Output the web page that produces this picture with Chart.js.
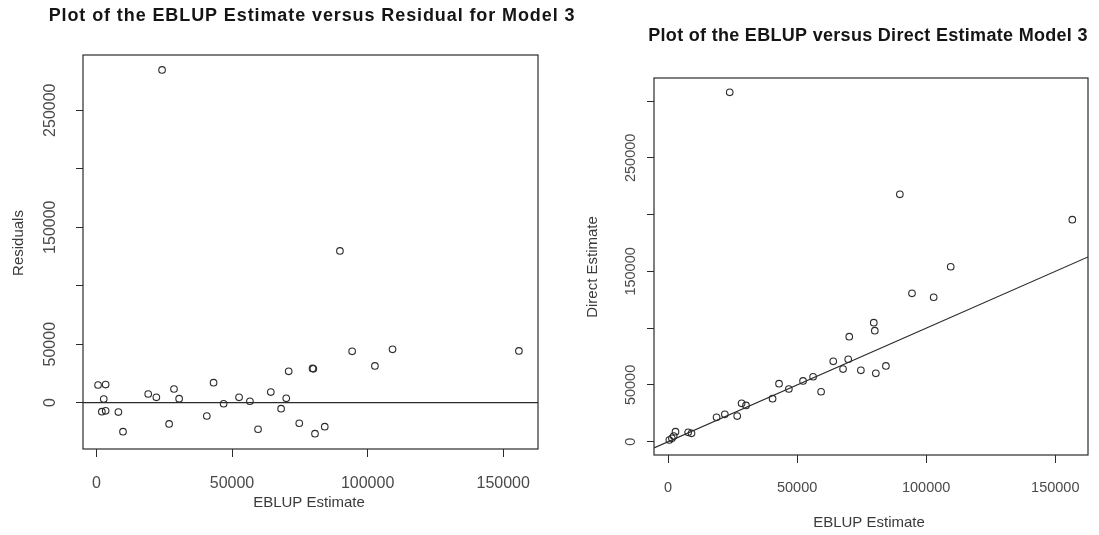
<!DOCTYPE html>
<html>
<head>
<meta charset="utf-8">
<title>EBLUP Model 3</title>
<script src="https://cdn.jsdelivr.net/npm/chart.js@4.4.0/dist/chart.umd.min.js"></script>
<style>
    html, body { margin: 0; padding: 0; background: #fff; overflow: hidden; }
    .panel { position: absolute; top: 0; height: 535px; }
    #left { left: 0; width: 600px; }
    #right { left: 549px; width: 550px; }
</style>
</head>
<body>
<div class="panel" id="left"><canvas id="residualChart" width="600" height="535"></canvas></div>
<div class="panel" id="right"><canvas id="directChart" width="550" height="535"></canvas></div>
<script>
// EBLUP estimate vs residual, model 3
const residEblup = [600, 3400, 2700, 2000, 3400, 8100, 9800, 19100, 22100, 24200, 26800, 28600, 30500,
    40700, 43200, 46900, 52600, 56600, 59600, 64300, 68100, 70000, 70900, 74800, 79700, 80000,
    80600, 84200, 89800, 94300, 102700, 109200, 155800];
const residuals = [15100, 15500, 3100, -7700, -7000, -8000, -24800, 7400, 4600, 284400, -18200, 11700, 3400,
    -11400, 17100, -900, 4600, 1200, -22700, 9100, -5100, 3700, 26800, -17600, 29300, 28900,
    -26500, -20500, 129700, 43900, 31400, 45600, 44200];

// EBLUP estimate vs direct estimate, model 3
const directEblup = [500, 1500, 2200, 2900, 7800, 9100, 18800, 22000, 23900, 26800, 28500, 30200,
    40500, 43000, 46800, 52300, 56200, 59300, 64000, 67800, 69800, 70200, 74700, 79700, 80100,
    80500, 84400, 89800, 94500, 102900, 109500, 156600];
const directEst = [1500, 3000, 5000, 8800, 8300, 7400, 21500, 24100, 307700, 22600, 33800, 32000,
    37900, 51100, 46400, 53500, 57200, 44000, 70800, 64000, 72600, 92500, 62900, 104800, 97800,
    60200, 66700, 217900, 130700, 127200, 154100, 195500];

// Ticks (R only prints every other label on the y axis)
const xTickValues = [0, 50000, 100000, 150000];
const xTickLabels = ['0', '50000', '100000', '150000'];
const yTickValuesLeft = [0, 50000, 100000, 150000, 200000, 250000];
const yTickValuesRight = [0, 50000, 100000, 150000, 200000, 250000, 300000];
const yTickLabels = ['0', '50000', '150000', '250000'];

const SANS = "'Liberation Sans', Arial, sans-serif";
const INK = '#2b2b2b';

Chart.defaults.font.family = SANS;
Chart.defaults.color = '#4a4a4a';

// box around the plot region, like R's bty="o"
const frameBox = {
    id: 'frameBox',
    afterDatasetsDraw(chart) {
        const {ctx, chartArea: a} = chart;
        ctx.save();
        ctx.strokeStyle = INK;
        ctx.lineWidth = 1.2;
        ctx.strokeRect(a.left, a.top, a.right - a.left, a.bottom - a.top);
        ctx.restore();
    }
};

// main title + axis titles
const panelText = {
    id: 'panelText',
    afterDraw(chart, args, opts) {
        const ctx = chart.ctx;
        ctx.save();
        ctx.textAlign = 'center';
        ctx.textBaseline = 'middle';

        const t = opts.title;
        ctx.fillStyle = '#151515';
        ctx.font = `bold ${t.size}px ${SANS}`;
        ctx.letterSpacing = t.spacing + 'px';
        ctx.fillText(t.text, t.x, t.y);
        ctx.letterSpacing = '0px';

        ctx.fillStyle = '#3a3a3a';
        ctx.font = `${opts.labelSize}px ${SANS}`;
        ctx.fillText(opts.xLabel.text, opts.xLabel.x, opts.xLabel.y);

        ctx.translate(opts.yLabel.x, opts.yLabel.y);
        ctx.rotate(-Math.PI / 2);
        ctx.fillText(opts.yLabel.text, 0, 0);
        ctx.restore();
    }
};

function pairs(xs, ys) {
    return xs.map((x, i) => ({x: x, y: ys[i]}));
}

function buildChart(id, cfg) {
    return new Chart(document.getElementById(id), {
        type: 'scatter',
        data: {
            datasets: [{
                data: pairs(cfg.xs, cfg.ys),
                pointStyle: 'circle',
                pointRadius: 3.3,
                pointBorderWidth: 1.1,
                borderColor: INK,
                backgroundColor: 'rgba(0,0,0,0)'
            }, {
                type: 'line',
                data: cfg.refLine,
                borderColor: INK,
                borderWidth: 1.1,
                pointRadius: 0,
                fill: false
            }]
        },
        options: {
            responsive: false,
            animation: false,
            events: [],
            layout: { padding: { top: cfg.top, right: cfg.right, left: 0, bottom: 0 } },
            scales: {
                x: {
                    type: 'linear',
                    min: cfg.xMin,
                    max: cfg.xMax,
                    afterBuildTicks: s => { s.ticks = xTickValues.map(v => ({value: v})); },
                    afterFit: s => { s.height = cfg.xAxisHeight; },
                    border: { display: false },
                    grid: { drawOnChartArea: false, drawTicks: true, tickLength: 8, color: INK, lineWidth: 1 },
                    ticks: {
                        font: { size: cfg.tickSize },
                        padding: cfg.xTickPad,
                        maxRotation: 0,
                        callback: v => xTickLabels[xTickValues.indexOf(v)] || ''
                    }
                },
                y: {
                    type: 'linear',
                    min: cfg.yMin,
                    max: cfg.yMax,
                    afterBuildTicks: s => { s.ticks = cfg.yTicks.map(v => ({value: v})); },
                    afterFit: s => { s.width = cfg.yAxisWidth; },
                    border: { display: false },
                    grid: { drawOnChartArea: false, drawTicks: true, tickLength: 7, color: INK, lineWidth: 1 },
                    ticks: {
                        font: { size: cfg.tickSize },
                        minRotation: 90,
                        maxRotation: 90,
                        crossAlign: 'center',
                        padding: cfg.yTickPad,
                        callback: v => yTickLabels.includes(String(v)) ? String(v) : ''
                    }
                }
            },
            plugins: {
                legend: { display: false },
                tooltip: { enabled: false },
                panelText: cfg.text
            }
        },
        plugins: [frameBox, panelText]
    });
}

// left: residuals, with horizontal line at 0
const leftX = [-4950, 162840];
buildChart('residualChart', {
    xs: residEblup, ys: residuals,
    refLine: leftX.map(x => ({x: x, y: 0})),
    xMin: leftX[0], xMax: leftX[1], yMin: -39600, yMax: 297200,
    yTicks: yTickValuesLeft,
    top: 55, right: 62, xAxisHeight: 86, yAxisWidth: 83,
    tickSize: 16, xTickPad: 17, yTickPad: -1.5,
    text: {
        title: { text: 'Plot of the EBLUP Estimate versus Residual for Model 3', x: 312, y: 16, size: 18, spacing: 0.9 },
        labelSize: 15,
        xLabel: { text: 'EBLUP Estimate', x: 309, y: 503 },
        yLabel: { text: 'Residuals', x: 19, y: 243 }
    }
});

// right: direct estimate, with the 45 degree line y = x
const rightX = [-5430, 162680];
buildChart('directChart', {
    xs: directEblup, ys: directEst,
    refLine: rightX.map(x => ({x: x, y: x})),
    xMin: rightX[0], xMax: rightX[1], yMin: -11700, yMax: 320300,
    yTicks: yTickValuesRight,
    top: 78, right: 11, xAxisHeight: 80, yAxisWidth: 105,
    tickSize: 14.5, xTickPad: 16, yTickPad: -8,
    text: {
        title: { text: 'Plot of the EBLUP versus Direct Estimate Model 3', x: 319, y: 36, size: 18, spacing: 0.3 },
        labelSize: 15,
        xLabel: { text: 'EBLUP Estimate', x: 320, y: 523 },
        yLabel: { text: 'Direct Estimate', x: 44, y: 267 }
    }
});
</script>
</body>
</html>
